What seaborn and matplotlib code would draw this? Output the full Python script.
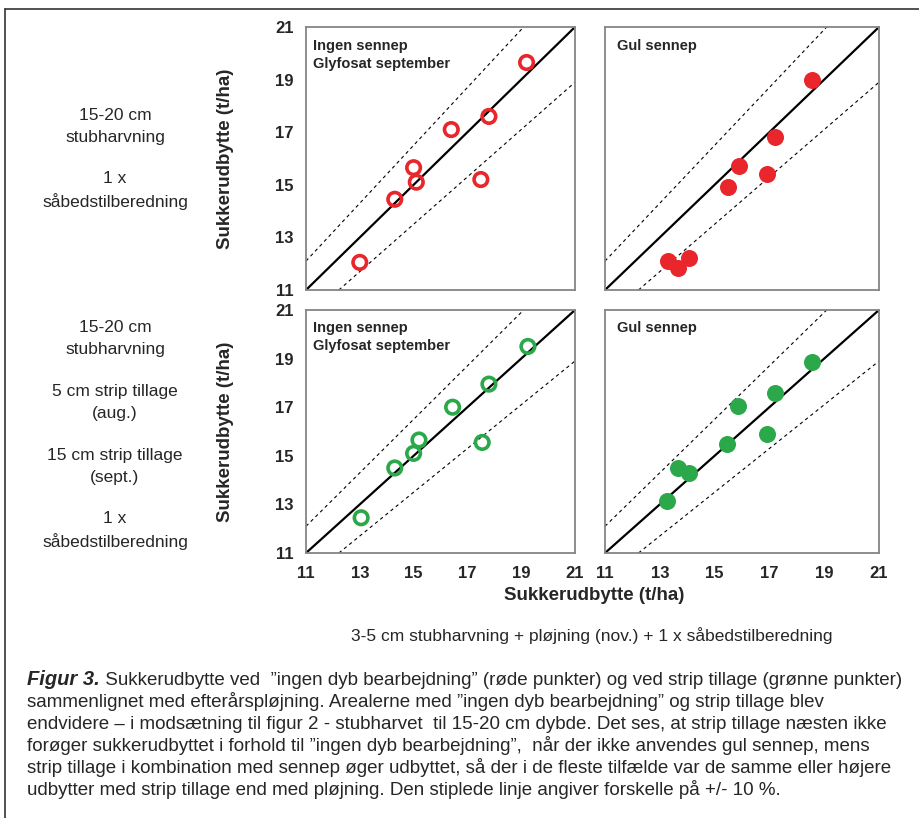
import matplotlib
matplotlib.use("Agg")
import matplotlib.pyplot as plt
import seaborn as sns
import pandas as pd
from matplotlib.lines import Line2D

# sugar yield with ploughing (x) vs. alternative tillage (y), t/ha
red_open_x = [13.0, 14.3, 15.0, 15.1, 16.4, 17.5, 17.8, 19.2]
red_open_y = [12.05, 14.45, 15.65, 15.1, 17.1, 15.2, 17.6, 19.65]
red_fill_x = [13.3, 13.65, 14.05, 15.5, 15.9, 16.9, 17.2, 18.55]
red_fill_y = [12.1, 11.85, 12.2, 14.9, 15.7, 15.4, 16.8, 19.0]
green_open_x = [13.05, 14.3, 15.0, 15.2, 16.45, 17.55, 17.8, 19.25]
green_open_y = [12.45, 14.5, 15.1, 15.65, 17.0, 15.55, 17.95, 19.5]
green_fill_x = [13.25, 13.65, 14.05, 15.45, 15.85, 16.9, 17.2, 18.55]
green_fill_y = [13.15, 14.5, 14.3, 15.5, 17.05, 15.9, 17.6, 18.85]

ticks = [11, 13, 15, 17, 19, 21]
panel_titles = ["Ingen sennep\nGlyfosat september", "Gul sennep"]
row_blocks = [
    ["15-20 cm\nstubharvning", "1 x\nsåbedstilberedning"],
    ["15-20 cm\nstubharvning", "5 cm strip tillage\n(aug.)",
     "15 cm strip tillage\n(sept.)", "1 x\nsåbedstilberedning"],
]
axis_label = "Sukkerudbytte (t/ha)"
bottom_text = "3-5 cm stubharvning + pløjning (nov.) + 1 x såbedstilberedning"
caption_head = "Figur 3."
caption_lines = [
    " Sukkerudbytte ved  \u201dingen dyb bearbejdning\u201d (røde punkter) og ved strip tillage (grønne punkter)",
    "sammenlignet med efterårspløjning. Arealerne med \u201dingen dyb bearbejdning\u201d og strip tillage blev",
    "endvidere \u2013 i modsætning til figur 2 - stubharvet  til 15-20 cm dybde. Det ses, at strip tillage næsten ikke",
    "forøger sukkerudbyttet i forhold til \u201dingen dyb bearbejdning\u201d,  når der ikke anvendes gul sennep, mens",
    "strip tillage i kombination med sennep øger udbyttet, så der i de fleste tilfælde var de samme eller højere",
    "udbytter med strip tillage end med pløjning. Den stiplede linje angiver forskelle på +/- 10 %.",
]

RED = "#e8262b"
GREEN = "#2aa84a"

sns.set_style("white")
plt.rcParams["font.family"] = ["Liberation Sans", "DejaVu Sans"]

W, H = 920, 818
fig = plt.figure(figsize=(W / 100, H / 100), dpi=100)


def px_axes(x0, y0, x1, y1):
    return fig.add_axes([x0 / W, 1 - y1 / H, (x1 - x0) / W, (y1 - y0) / H])


panels = [
    (px_axes(306, 27, 575, 290), red_open_x, red_open_y, RED, False, 0),
    (px_axes(605, 27, 879, 290), red_fill_x, red_fill_y, RED, True, 1),
    (px_axes(306, 310, 575, 553), green_open_x, green_open_y, GREEN, False, 0),
    (px_axes(605, 310, 879, 553), green_fill_x, green_fill_y, GREEN, True, 1),
]

for i, (ax, xs, ys, col, filled, t) in enumerate(panels):
    df = pd.DataFrame({"x": xs, "y": ys})
    ax.axline((11, 11), slope=1, color="black", lw=1.6, zorder=1)
    ax.axline((0, 0), slope=1.1, color="black", lw=0.8, ls=(0, (3, 3)), zorder=1)
    ax.axline((0, 0), slope=0.9, color="black", lw=0.8, ls=(0, (3, 3)), zorder=1)
    if filled:
        sns.scatterplot(data=df, x="x", y="y", ax=ax, s=150, color=col,
                        edgecolor=col, linewidth=0, zorder=3)
    else:
        sns.scatterplot(data=df, x="x", y="y", ax=ax, s=95, facecolor="none",
                        edgecolor=col, linewidth=2.6, zorder=3)
    ax.set_xlim(11, 21)
    ax.set_ylim(11, 21)
    ax.set_xticks(ticks)
    ax.set_yticks(ticks)
    ax.set_xlabel("")
    ax.set_ylabel("")
    for sp in ax.spines.values():
        sp.set_color("#858585")
        sp.set_linewidth(1.3)
    ax.tick_params(axis="both", direction="out", length=5, width=1.2,
                   color="#858585", labelsize=12, pad=4)
    for lab in ax.get_xticklabels() + ax.get_yticklabels():
        lab.set_fontweight("bold")
    if i < 2:
        ax.tick_params(axis="x", length=0, labelbottom=False)
    if i % 2 == 1:
        ax.tick_params(axis="y", length=0, labelleft=False)
    tx = 0.026 if t == 0 else 0.045
    ax.text(tx, 0.955, panel_titles[t], transform=ax.transAxes, ha="left", va="top",
            fontsize=10.5, fontweight="bold", linespacing=1.35)

# y axis labels and row descriptions
for k, (y0, y1) in enumerate([(27, 290), (310, 553)]):
    yc = (y0 + y1) / 2
    fig.text(226 / W, 1 - yc / H, axis_label, rotation=90, ha="center", va="center",
             fontsize=13.5, fontweight="bold")
    nb = len(row_blocks[k])
    for b, block in enumerate(row_blocks[k]):
        by = yc + (b - (nb - 1) / 2) * 64 + (0 if k == 0 else 3)
        fig.text(115 / W, 1 - by / H, block, ha="center", va="center",
                 fontsize=12.5, linespacing=1.57)

fig.text(594 / W, 1 - 596 / H, axis_label, ha="center", va="center",
         fontsize=13.5, fontweight="bold")
fig.text(592 / W, 1 - 636 / H, bottom_text, ha="center", va="center", fontsize=12.5)

# caption
head = fig.text(27 / W, 1 - 685 / H, caption_head, ha="left", va="baseline", fontsize=14.5,
                fontweight="bold", fontstyle="italic")
fig.canvas.draw()
head_end = head.get_window_extent().x1
for n, line in enumerate(caption_lines):
    x0 = head_end / W if n == 0 else 27 / W
    fig.text(x0, 1 - (685 + 22 * n) / H, line, ha="left", va="baseline", fontsize=13.5)

# frame around the figure
fig.add_artist(Line2D([5 / W, 1], [1 - 9 / H, 1 - 9 / H], color="#333333", lw=1.2))
fig.add_artist(Line2D([5 / W, 5 / W], [0, 1 - 9 / H], color="#333333", lw=1.2))

fig.savefig("out.png", dpi=100)
